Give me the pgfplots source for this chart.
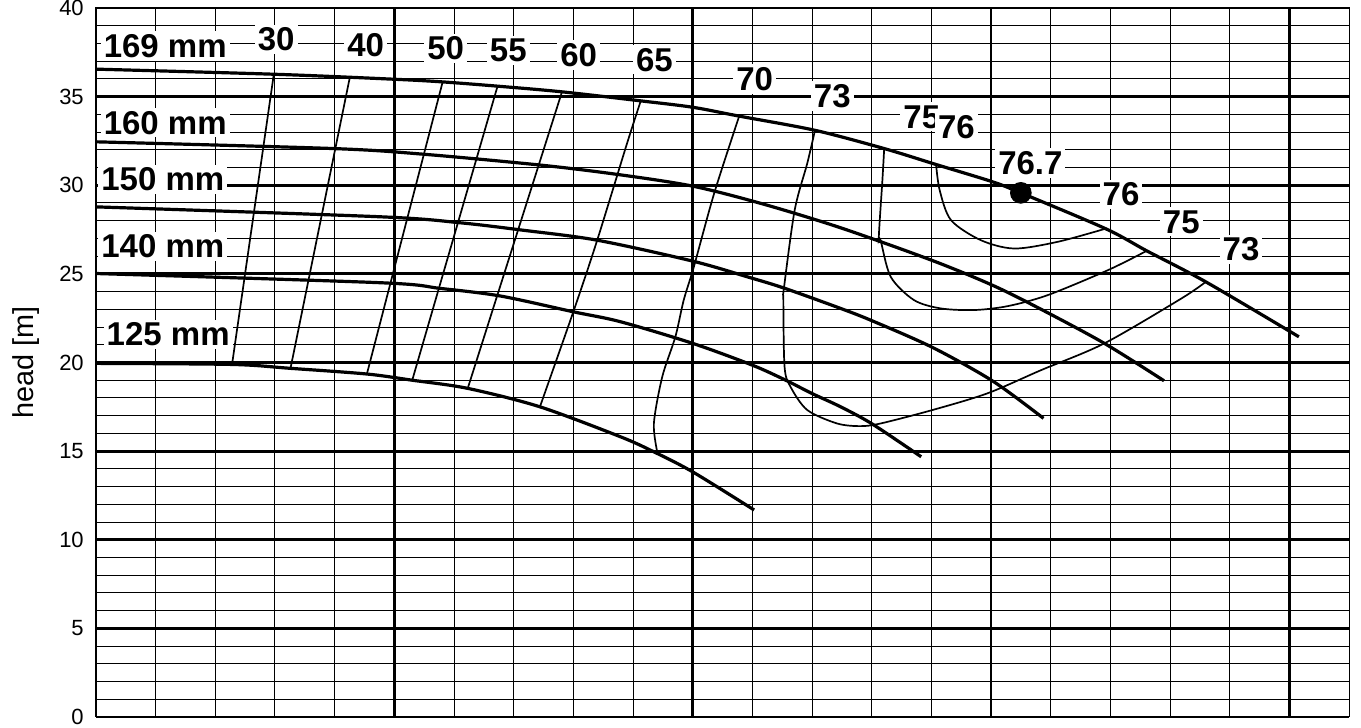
\documentclass[border=0pt]{standalone}
\usepackage{fontspec}
\setmainfont{Liberation Sans}
\usepackage{pgfplots}
\pgfplotsset{compat=1.18}

\tikzset{
  hcurve/.style={black, line width=1.6pt, smooth},
  eta/.style={black, line width=0.85pt, smooth},
  lab/.style={fill=white, inner sep=1.5pt, font=\bfseries\fontsize{16.5}{18}\selectfont},
}

\begin{document}
\begin{tikzpicture}
\begin{axis}[
  scale only axis,
  width=626.5pt, height=354.5pt,
  xmin=0, xmax=21, ymin=0, ymax=40,
  xtick={0,5,10,15,20}, xticklabels={},
  ytick={0,5,...,40},
  minor xtick={0,1,...,21}, minor ytick={0,1,...,40},
  major tick length=0pt, minor tick length=0pt,
  grid=both,
  major grid style={line width=1.4pt, black},
  minor grid style={line width=0.5pt, black},
  axis line style={line width=0.5pt},
  /pgf/number format/assume math mode=true,
  yticklabel style={font=\fontsize{11}{12}\selectfont, xshift=-2.6pt},
  ylabel={head [m]},
  every axis y label/.style={at={(axis description cs:-0.0559,0.5)}, rotate=90, anchor=center, font=\fontsize{14.4}{16}\selectfont},
  clip=false,
]
% impeller curves
\addplot[hcurve] coordinates {(0,36.55) (3.01,36.26) (5,35.98) (5.81,35.83) (6.73,35.59) (7.81,35.27) (9.13,34.76) (10,34.4) (10.78,33.9) (12.05,33.1) (13.21,32.07) (14.08,31.17) (15.03,30.19) (15.5,29.57) (16.92,27.55) (17.61,26.3) (18.6,24.55) (20.16,21.45)};
\addplot[hcurve] coordinates {(0,32.45) (3.98,32.07) (5.49,31.75) (7.47,31.13) (8.74,30.61) (10,29.95) (11.17,28.95) (12.48,27.6) (14.02,25.75) (15.03,24.35) (15.84,23.0) (16.9,21.08) (17.9,18.97)};
\addplot[hcurve] coordinates {(0,28.78) (4.77,28.22) (6.11,27.88) (7.14,27.47) (8.4,26.9) (10,25.72) (10.92,24.83) (11.53,24.2) (12.48,23.05) (13.01,22.35) (14.02,20.85) (15.03,18.95) (15.88,16.85)};
\addplot[hcurve] coordinates {(0,25.02) (4.77,24.5) (5.77,24.18) (6.78,23.75) (8.0,22.86) (8.79,22.3) (10,21.08) (11.0,19.85) (11.56,19.0) (12.0,18.25) (12.48,17.5) (13.01,16.53) (13.83,14.68)};
\addplot[hcurve] coordinates {(0,19.95) (2.28,19.89) (3.26,19.67) (4.54,19.35) (5.3,19.0) (6.23,18.54) (7.44,17.5) (8.79,15.81) (9.35,14.96) (10,13.83) (11.03,11.68)};
% efficiency lines
\addplot[eta] coordinates {(2.98,36.26) (2.28,19.89)};
\addplot[eta] coordinates {(4.25,36.02) (3.26,19.67)};
\addplot[eta] coordinates {(5.81,35.83) (4.54,19.35)};
\addplot[eta] coordinates {(6.73,35.59) (5.3,19.0)};
\addplot[eta] coordinates {(7.81,35.27) (6.23,18.54)};
\addplot[eta] coordinates {(9.13,34.76) (8.9,32.36) (8.4,26.9) (8.01,22.96) (7.44,17.5)};
\addplot[eta] coordinates {(10.78,33.9) (10.36,29.54) (10.02,25.4) (9.85,23.52) (9.71,21.45) (9.49,19.19) (9.35,16.56) (9.41,14.9)};
\addplot[eta] coordinates {(12.05,33.1) (11.92,31.23) (11.71,28.6) (11.53,24.2) (11.52,23.52) (11.54,19.76) (11.64,18.63) (11.92,17.32) (12.42,16.56) (12.81,16.41) (13.15,16.56) (14.02,17.32) (14.94,18.26) (15.84,19.57) (16.9,21.08) (18.19,23.61) (18.6,24.55)};
\addplot[eta] coordinates {(13.21,32.07) (13.18,30.29) (13.12,27.09) (13.15,26.9) (13.32,24.83) (13.71,23.52) (14.16,23.05) (14.72,22.96) (15.28,23.18) (15.95,23.8) (16.96,25.21) (17.61,26.3)};
\addplot[eta] coordinates {(14.08,31.17) (14.14,29.72) (14.33,28.03) (14.83,26.9) (15.39,26.43) (16.12,26.81) (16.92,27.55)};
% best efficiency point
\addplot[only marks, mark=*, mark size=5.2pt, black] coordinates {(15.5,29.57)};
% labels
\node[lab] at (axis cs:1.16,37.86) {169 mm};
\node[lab] at (axis cs:1.16,33.53) {160 mm};
\node[lab] at (axis cs:1.12,30.33) {150 mm};
\node[lab] at (axis cs:1.12,26.55) {140 mm};
\node[lab] at (axis cs:1.21,21.59) {125 mm};
\node[lab] at (axis cs:3.02,38.23) {30};
\node[lab] at (axis cs:4.52,37.9) {40};
\node[lab] at (axis cs:5.86,37.73) {50};
\node[lab] at (axis cs:6.91,37.6) {55};
\node[lab] at (axis cs:8.09,37.34) {60};
\node[lab] at (axis cs:9.36,37.08) {65};
\node[lab] at (axis cs:11.04,36.0) {70};
\node[lab] at (axis cs:12.34,35.04) {73};
\node[lab] at (axis cs:13.84,33.86) {75};
\node[lab] at (axis cs:14.42,33.28) {76};
\node[lab] at (axis cs:15.66,31.25) {76.7};
\node[lab] at (axis cs:17.18,29.49) {76};
\node[lab] at (axis cs:18.19,27.93) {75};
\node[lab] at (axis cs:19.19,26.39) {73};
\end{axis}
\pgfresetboundingbox
\path (current axis.south west) ++(-48pt,-5.5pt) rectangle ([shift={(6pt,4pt)}]current axis.north east);
\end{tikzpicture}
\end{document}
